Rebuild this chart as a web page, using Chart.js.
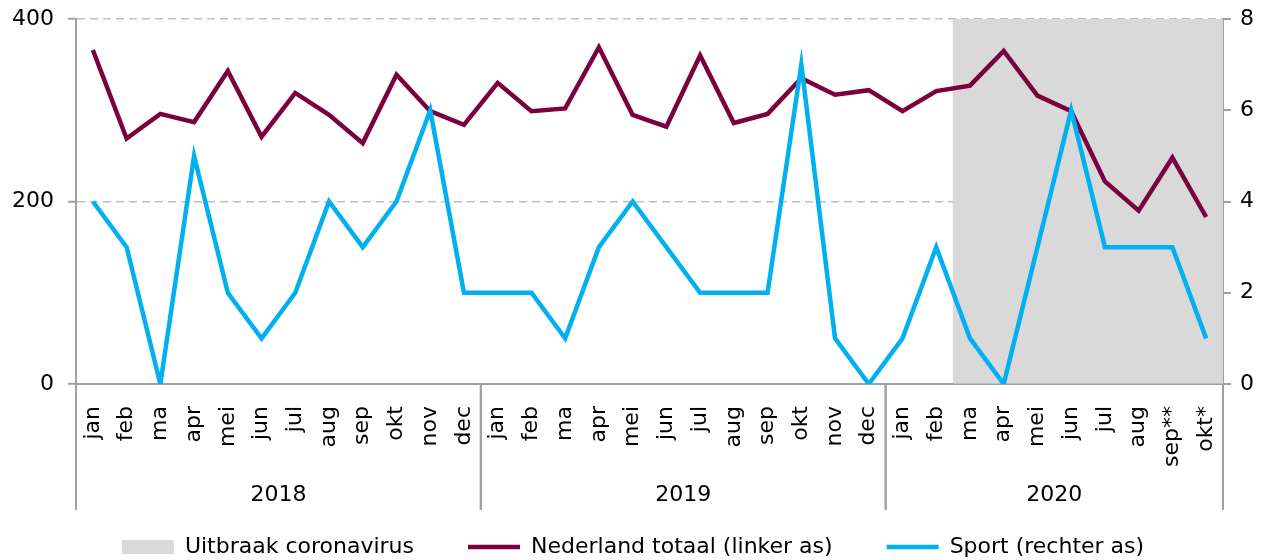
<!DOCTYPE html>
<html>
<head>
<meta charset="utf-8">
<script src="https://cdn.jsdelivr.net/npm/chart.js@4.4.0/dist/chart.umd.min.js"></script>
<style>
  html, body { margin: 0; padding: 0; background: #fff; }
  #wrap { width: 1266px; height: 560px; }
</style>
</head>
<body>
<div id="wrap"><canvas id="chart"></canvas></div>
<script>
// months per category, years with their number of months
const months = ['jan', 'feb', 'ma', 'apr', 'mei', 'jun', 'jul', 'aug', 'sep', 'okt', 'nov', 'dec',
                'jan', 'feb', 'ma', 'apr', 'mei', 'jun', 'jul', 'aug', 'sep', 'okt', 'nov', 'dec',
                'jan', 'feb', 'ma', 'apr', 'mei', 'jun', 'jul', 'aug', 'sep**', 'okt*'];
const years = ['2018', '2019', '2020'];
const monthsPerYear = [12, 12, 10];

// Nederland totaal (linker as)
const nederland = [366, 269, 296, 287, 343, 271, 319, 295, 264, 339, 299, 284,
                   330, 299, 302, 369, 295, 282, 360, 286, 296, 335, 317, 322,
                   299, 321, 327, 365, 316, 299, 222, 190, 248, 183];
// Sport (rechter as)
const sport = [4, 3, 0, 5, 2, 1, 2, 4, 3, 4, 6, 2,
               2, 2, 1, 3, 4, 3, 2, 2, 2, 7, 1, 0,
               1, 3, 1, 0, 3, 6, 3, 3, 3, 1];
// Uitbraak coronavirus (shaded months, up to top of left axis)
const uitbraak = [null, null, null, null, null, null, null, null, null, null, null, null,
                  null, null, null, null, null, null, null, null, null, null, null, null,
                  null, null, 400, 400, 400, 400, 400, 400, 400, 400];

const leftTicks = [0, 200, 400];
const rightTicks = [0, 2, 4, 6, 8];

const FONT = "'DejaVu Sans', sans-serif";
const AXIS_GREY = '#a0a0a0';

// year row under the month labels, plus the separators
const yearRows = {
    id: 'yearRows',
    afterDraw(chart) {
        const ctx = chart.ctx;
        const x = chart.scales.x;
        const area = chart.chartArea;
        const top = area.bottom;
        const bottom = top + 126;
        const n = months.length;

        ctx.save();
        ctx.strokeStyle = AXIS_GREY;
        ctx.lineWidth = 2;
        ctx.fillStyle = '#000';
        ctx.font = '22px ' + FONT;
        ctx.textAlign = 'center';
        ctx.textBaseline = 'middle';

        let start = 0;
        years.forEach((year, i) => {
            const end = start + monthsPerYear[i] - 1;
            const left = start === 0 ? area.left
                : (x.getPixelForValue(start - 1) + x.getPixelForValue(start)) / 2;
            const right = end === n - 1 ? area.right
                : (x.getPixelForValue(end) + x.getPixelForValue(end + 1)) / 2;

            ctx.beginPath();
            ctx.moveTo(left, top);
            ctx.lineTo(left, bottom);
            ctx.moveTo(right, top);
            ctx.lineTo(right, bottom);
            ctx.stroke();

            ctx.fillText(year, (left + right) / 2, top + 111);
            start = end + 1;
        });
        ctx.restore();
    }
};

// keep the y axes from pushing the plot area down
function fixYPadding(scale, width) {
    scale.width = width;
    scale.paddingTop = 10;
    scale.paddingBottom = 10;
}

const ctx = document.getElementById('chart').getContext('2d');

const chart = new Chart(ctx, {
    data: {
        labels: months,
        datasets: [
            {
                type: 'bar',
                label: 'Uitbraak coronavirus',
                data: uitbraak,
                yAxisID: 'y',
                backgroundColor: '#d9d9d9',
                borderWidth: 0,
                barPercentage: 1,
                categoryPercentage: 1,
                order: 3
            },
            {
                type: 'line',
                label: 'Nederland totaal (linker as)',
                data: nederland,
                yAxisID: 'y',
                borderColor: '#7a003f',
                backgroundColor: '#7a003f',
                borderWidth: 4.5,
                pointRadius: 0,
                tension: 0,
                order: 2
            },
            {
                type: 'line',
                label: 'Sport (rechter as)',
                data: sport,
                yAxisID: 'y1',
                borderColor: '#00b0f0',
                backgroundColor: '#00b0f0',
                borderWidth: 4.5,
                pointRadius: 0,
                tension: 0,
                order: 1
            }
        ]
    },
    options: {
        responsive: true,
        maintainAspectRatio: false,
        animation: false,
        layout: {
            padding: { top: 19, right: 0, bottom: 0, left: 0 }
        },
        plugins: {
            tooltip: { enabled: false },
            legend: {
                position: 'bottom',
                maxHeight: 78,
                labels: {
                    color: '#000',
                    font: { family: FONT, size: 22 },
                    usePointStyle: true,
                    pointStyleWidth: 52,
                    boxHeight: 14,
                    padding: 54,
                    generateLabels(chart) {
                        return chart.data.datasets.map((ds, i) => ({
                            text: ds.label,
                            datasetIndex: i,
                            fillStyle: ds.backgroundColor,
                            strokeStyle: ds.type === 'bar' ? ds.backgroundColor : ds.borderColor,
                            lineWidth: ds.type === 'bar' ? 0 : 4.5,
                            pointStyle: ds.type === 'bar' ? 'rect' : 'line',
                            fontColor: '#000',
                            hidden: false
                        }));
                    }
                }
            }
        },
        scales: {
            x: {
                offset: true,
                grid: { display: false },
                border: { display: true, color: AXIS_GREY, width: 2 },
                ticks: {
                    color: '#000',
                    font: { family: FONT, size: 22 },
                    autoSkip: false,
                    minRotation: 90,
                    maxRotation: 90,
                    padding: 14
                },
                afterFit(scale) { scale.height = 98; }
            },
            y: {
                position: 'left',
                min: 0,
                max: 400,
                afterBuildTicks(scale) { scale.ticks = leftTicks.map(v => ({ value: v })); },
                grid: {
                    color: '#bfbfbf',
                    lineWidth: 1.5,
                    tickColor: AXIS_GREY,
                    tickLength: 8,
                    tickWidth: 2
                },
                border: { display: true, color: AXIS_GREY, width: 2, dash: [8, 5] },
                ticks: {
                    color: '#000',
                    font: { family: FONT, size: 22 },
                    padding: 14
                },
                afterFit(scale) { fixYPadding(scale, 76); }
            },
            y1: {
                position: 'right',
                min: 0,
                max: 8,
                afterBuildTicks(scale) { scale.ticks = rightTicks.map(v => ({ value: v })); },
                grid: {
                    drawOnChartArea: false,
                    color: AXIS_GREY,
                    tickLength: 8,
                    lineWidth: 2
                },
                border: { display: true, color: AXIS_GREY, width: 2 },
                ticks: {
                    color: '#000',
                    font: { family: FONT, size: 22 },
                    padding: 9
                },
                afterFit(scale) { fixYPadding(scale, 43); }
            }
        }
    },
    plugins: [yearRows]
});
</script>
</body>
</html>
